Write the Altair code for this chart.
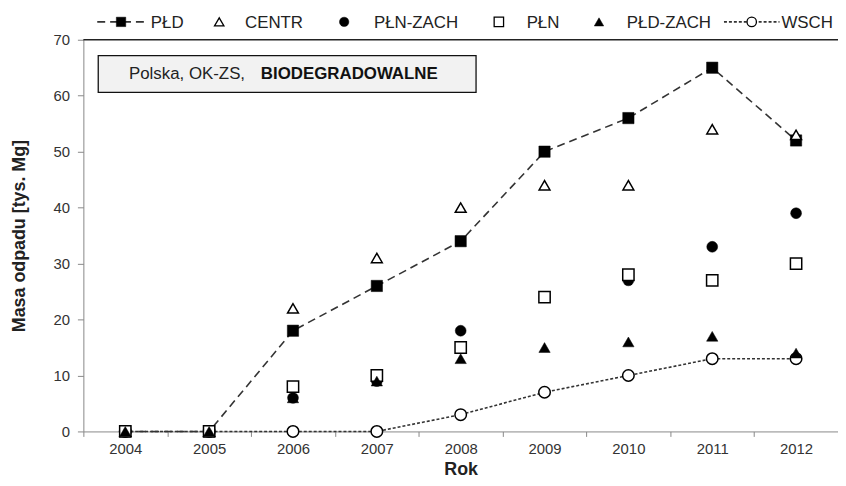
import altair as alt
import pandas as pd

# ---- data ----
years = ["2004", "2005", "2006", "2007", "2008", "2009", "2010", "2011", "2012"]
pld = [0, 0, 18, 26, 34, 50, 56, 65, 52]
centr = [0, 0, 22, 31, 40, 44, 44, 54, 53]
pln_zach = [0, 0, 6, 9, 18, 24, 27, 33, 39]
pln = [0, 0, 8, 10, 15, 24, 28, 27, 30]
pld_zach = [0, 0, 6, 9, 13, 15, 16, 17, 14]
wsch = [0, 0, 0, 0, 3, 7, 10, 13, 13]
y_ticks = [0, 10, 20, 30, 40, 50, 60, 70]

FONT = "Liberation Sans"
W, H = 761, 395


def frame(vals):
    return pd.DataFrame({"Rok": years, "v": vals})


X = alt.X(
    "Rok:O",
    bandPosition=0.5,
    scale=alt.Scale(type="band", domain=years, paddingInner=0, paddingOuter=0),
    axis=alt.Axis(
        title="Rok", tickBand="extent", labelAngle=0, labelFontSize=15,
        labelColor="#333333", labelPadding=5, tickSize=5, tickColor="#888888",
        domainColor="#888888", titleFontSize=18, titleFontWeight="bold",
        titleColor="#222222", titlePadding=4, labelFont=FONT, titleFont=FONT,
    ),
)
Y = alt.Y(
    "v:Q",
    scale=alt.Scale(domain=[0, 70], nice=False, zero=True),
    axis=alt.Axis(
        title="Masa odpadu  [tys. Mg]", values=y_ticks, grid=False,
        labelFontSize=15, labelColor="#333333", labelPadding=8, tickSize=6,
        tickColor="#888888", domainColor="#888888", titleFontSize=18,
        titleFontWeight="bold", titleColor="#222222", labelFont=FONT,
        titleFont=FONT, titleX=-64, titleY=H / 2, titleAngle=270,
        titleAlign="center", titleBaseline="middle",
    ),
)

layers = []

# lines
layers.append(
    alt.Chart(frame(pld)).mark_line(color="#333333", strokeWidth=1.6, strokeDash=[8, 5])
    .encode(x=X, y=Y)
)
layers.append(
    alt.Chart(frame(wsch)).mark_line(color="#333333", strokeWidth=1.6, strokeDash=[3, 2])
    .encode(x=X, y=Y)
)

# points (drawing order chosen to match overlaps in the reference)
def pts(vals, shape, filled, size=130):
    if filled:
        m = alt.Chart(frame(vals)).mark_point(
            shape=shape, filled=True, fill="#000000", stroke="#000000",
            strokeWidth=0.5, size=size, opacity=1)
    else:
        m = alt.Chart(frame(vals)).mark_point(
            shape=shape, filled=True, fill="#ffffff", stroke="#000000",
            strokeWidth=1.5, size=size, opacity=1)
    return m.encode(x=X, y=Y)


layers.append(pts(wsch, "circle", False, 135))
layers.append(pts(pld, "square", True, 130))
layers.append(pts(centr, "triangle-up", False, 120))
layers.append(pts(pln_zach, "circle", True, 120))
layers.append(pts(pln, "square", False, 130))
layers.append(pts(pld_zach, "triangle-up", True, 130))

one = pd.DataFrame({"k": [0]})

# top border line
layers.append(
    alt.Chart(one).mark_rule(color="#222222", strokeWidth=1.6)
    .encode(x=alt.value(0), x2=alt.value(W), y=alt.value(0))
)

# annotation box
layers.append(
    alt.Chart(one).mark_rect(fill="#f2f2f2", stroke="#111111", strokeWidth=1.3)
    .encode(x=alt.value(15), x2=alt.value(396), y=alt.value(16), y2=alt.value(53))
)
layers.append(
    alt.Chart(one).mark_text(text="Polska, OK-ZS,", align="left", baseline="middle",
                             font=FONT, fontSize=17, color="#222222")
    .encode(x=alt.value(46), y=alt.value(35))
)
layers.append(
    alt.Chart(one).mark_text(text="BIODEGRADOWALNE", align="left", baseline="middle",
                             font=FONT, fontSize=17, fontWeight="bold", color="#111111")
    .encode(x=alt.value(179), y=alt.value(35))
)

# custom legend
LY = -18
legend_items = [
    # label, symbol x, text x, shape, filled, line (x1, x2, dash) or None
    ("PŁD", 38, 68, "square", True, (14, 62, [8, 5])),
    ("CENTR", 137, 163, "triangle-up", False, None),
    ("PŁN-ZACH", 263, 293, "circle", True, None),
    ("PŁN", 419, 447, "square", False, None),
    ("PŁD-ZACH", 520, 548, "triangle-up", True, None),
    ("WSCH", 674, 704, "circle", False, (646, 702, [3, 2])),
]
for label, sx, tx, shape, filled, line in legend_items:
    if line is not None:
        layers.append(
            alt.Chart(one).mark_rule(color="#333333", strokeWidth=1.6, strokeDash=line[2])
            .encode(x=alt.value(line[0]), x2=alt.value(line[1]), y=alt.value(LY))
        )
    layers.append(
        alt.Chart(one).mark_point(
            shape=shape, filled=True, fill="#000000" if filled else "#ffffff",
            stroke="#000000", strokeWidth=1.3 if not filled else 0.5, size=90, opacity=1)
        .encode(x=alt.value(sx), y=alt.value(LY))
    )
    layers.append(
        alt.Chart(one).mark_text(text=label, align="left", baseline="middle",
                                 font=FONT, fontSize=17, color="#222222")
        .encode(x=alt.value(tx), y=alt.value(LY + 1))
    )

chart = (
    alt.layer(*layers)
    .properties(
        width=W, height=H,
        autosize=alt.AutoSizeParams(type="none"),
        padding={"left": 76, "top": 30, "right": 0, "bottom": 52},
        background="#ffffff",
    )
    .configure_view(stroke=None)
)

chart.save("out.html", embed_options={"renderer": "svg", "actions": False})
